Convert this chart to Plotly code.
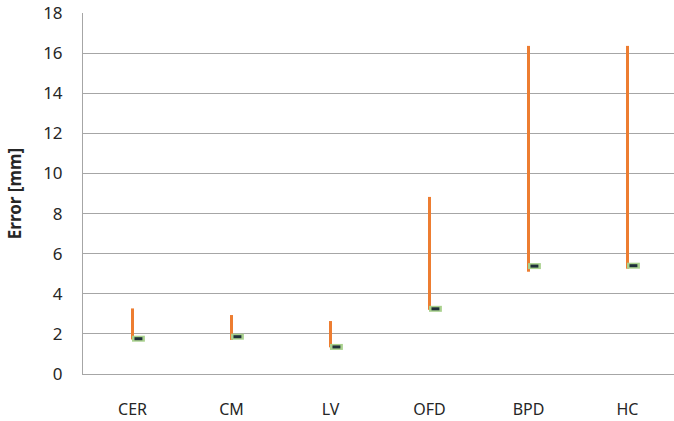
import plotly.graph_objects as go

categories = ["CER", "CM", "LV", "OFD", "BPD", "HC"]
high = [3.27, 2.94, 2.64, 8.83, 16.36, 16.36]
low = [1.72, 1.70, 1.33, 3.20, 5.10, 5.25]
close = [1.76, 1.86, 1.35, 3.25, 5.38, 5.40]
y_ticks = [0, 2, 4, 6, 8, 10, 12, 14, 16, 18]

idx = list(range(len(categories)))

# high-low lines
hx, hy = [], []
for i, lo, hi in zip(idx, low, high):
    hx += [i, i, None]
    hy += [lo, hi, None]

# close markers (short horizontal segments to the right of the line)
ox, oy, ix, iy = [], [], [], []
for i, c in zip(idx, close):
    ox += [i - 0.005, i + 0.125, None]
    oy += [c, c, None]
    ix += [i + 0.02, i + 0.10, None]
    iy += [c, c, None]

fig = go.Figure()
fig.add_trace(go.Scatter(x=hx, y=hy, mode="lines",
                         line=dict(color="#ED7D31", width=3), hoverinfo="skip"))
fig.add_trace(go.Scatter(x=ox, y=oy, mode="lines",
                         line=dict(color="#A9D18E", width=6), hoverinfo="skip"))
fig.add_trace(go.Scatter(x=ix, y=iy, mode="lines",
                         line=dict(color="#1F2F3A", width=3), hoverinfo="skip"))

W, H = 674, 421
ml, mt, mb, mr = 83, 13, 47, 0
cat_px = 99.0
plot_w = W - ml - mr
fig.update_layout(
    width=W, height=H,
    margin=dict(l=ml, r=mr, t=mt, b=mb),
    paper_bgcolor="white", plot_bgcolor="white",
    showlegend=False,
    font=dict(family="Noto Sans, Open Sans, sans-serif", color="#262626"),
    xaxis=dict(
        range=[-0.5, -0.5 + plot_w / cat_px],
        tickmode="array", tickvals=idx, ticktext=categories,
        showgrid=False, zeroline=False,
        showline=True, linecolor="#A6A6A6", linewidth=1,
        ticks="outside", ticklen=21, tickcolor="rgba(0,0,0,0)",
        tickfont=dict(size=16, color="#262626"),
    ),
    yaxis=dict(
        range=[0, 18], tickmode="array", tickvals=y_ticks,
        showgrid=True, gridcolor="#A6A6A6", gridwidth=1,
        zeroline=False,
        showline=True, linecolor="#A6A6A6", linewidth=1,
        ticks="outside", ticklen=16, tickcolor="rgba(0,0,0,0)",
        tickfont=dict(size=17, color="#262626"),
        title=dict(text="<b>Error [mm]</b>", font=dict(size=17, color="#262626"),
                   standoff=17),
    ),
)

fig.write_html("out.html", config={"displayModeBar": False},
               post_script="document.body.style.margin='0';")
